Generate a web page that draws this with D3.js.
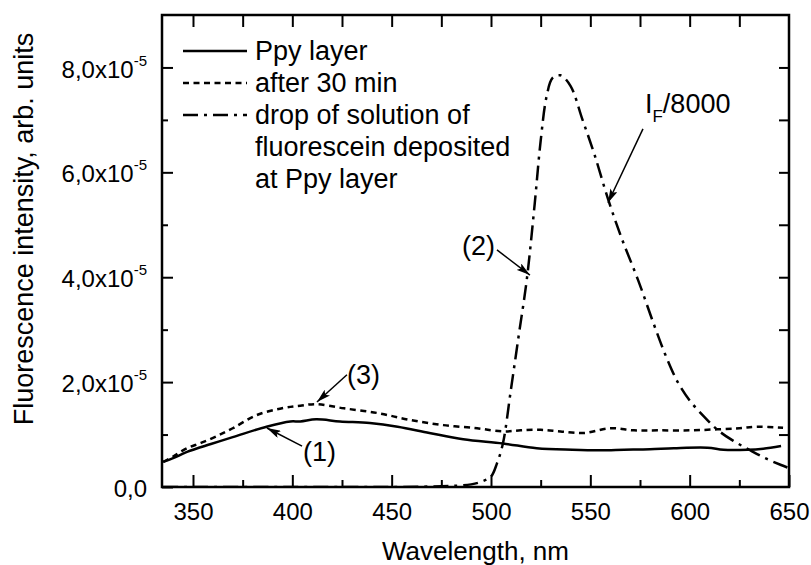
<!DOCTYPE html>
<html lang="en">
<head>
<meta charset="UTF-8">
<title>Fluorescence spectra</title>
<script src="https://d3js.org/d3.v7.min.js"></script>
<style>
  body { margin: 0; background: #fff; }
  svg { font-family: "Liberation Sans", Arial, sans-serif; }
  .tick line { stroke: #000; stroke-width: 2; }
  .tick text { font-size: 24px; fill: #000; }
  .curve { fill: none; stroke: #000; stroke-width: 2.5; }
  .lbl { font-size: 27px; fill: #000; }
</style>
</head>
<body>
<svg id="canvas" width="811" height="565"></svg>
<script>
// values are in units of 1e-5
var UNIT = 1e-5;

var ppyWl  = [335, 340, 347, 359, 370, 387, 399, 404, 412, 424, 439, 453, 469, 486, 506, 523, 541, 555, 567, 580, 592, 609, 617, 629, 637, 646];
var ppyVal = [0.48, 0.55, 0.67, 0.82, 0.95, 1.15, 1.25, 1.25, 1.29, 1.25, 1.22, 1.15, 1.03, 0.91, 0.83, 0.74, 0.71, 0.70, 0.71, 0.72, 0.74, 0.75, 0.71, 0.71, 0.73, 0.78];

var afterWl  = [335, 340, 347, 354, 362, 370, 382, 396, 404, 412, 426, 443, 459, 476, 493, 506, 515, 525, 535, 547, 560, 572, 584, 600, 614, 625, 634, 647];
var afterVal = [0.48, 0.58, 0.74, 0.84, 0.97, 1.12, 1.37, 1.51, 1.55, 1.58, 1.50, 1.41, 1.28, 1.18, 1.12, 1.06, 1.08, 1.09, 1.06, 1.03, 1.12, 1.08, 1.08, 1.08, 1.10, 1.12, 1.15, 1.13];

var dropWl  = [335, 400, 450, 480, 490, 495, 500, 503, 506, 510, 514, 518, 522, 525, 528, 531, 535, 540, 546, 552, 559, 566, 574, 582, 588, 594, 600, 607, 614, 622, 630, 638, 646, 650];
var dropVal = [0, 0, 0, 0.02, 0.05, 0.1, 0.2, 0.45, 0.83, 1.85, 2.9, 3.95, 5.4, 6.6, 7.45, 7.8, 7.85, 7.65, 7.01, 6.35, 5.48, 4.72, 3.95, 3.1, 2.5, 2.0, 1.65, 1.35, 1.09, 0.88, 0.71, 0.55, 0.42, 0.36];

var xMajor = [350, 400, 450, 500, 550, 600, 650];
var xMinor = [375, 425, 475, 525, 575, 625];
var xTop   = [350, 375, 400, 425, 450, 475, 500, 525, 550, 575, 600, 625];
var yMajor = [0, 2, 4, 6, 8];
var yMinor = [1, 3, 5, 7];
var yRight = [1, 2, 3, 4, 5, 6, 7, 8];
var yTickLabels = ["0,0", "2,0x10", "4,0x10", "6,0x10", "8,0x10"];

var legendNames = ["Ppy layer", "after 30 min", "drop of solution of"];
var legendMore  = ["fluorescein deposited", "at Ppy layer"];
var dashes = [null, "6,4.5", "15,6,3,6"];

var svg = d3.select("svg");
var pL = 162, pR = 789, pT = 15, pB = 487;

var x = d3.scaleLinear().domain([334.4, 650]).range([pL, pR]);
var y = d3.scaleLinear().domain([0, 9 * UNIT]).range([pB, pT]);

// axes
svg.append("g").attr("transform", "translate(0," + pB + ")")
  .call(d3.axisBottom(x).tickValues(xMajor).tickSize(-12).tickSizeOuter(0).tickPadding(16));
svg.append("g").attr("transform", "translate(0," + pB + ")")
  .call(d3.axisBottom(x).tickValues(xMinor).tickSize(-7).tickSizeOuter(0).tickFormat(""));
svg.append("g").attr("transform", "translate(0," + pT + ")")
  .call(d3.axisTop(x).tickValues(xTop).tickSize(-12).tickSizeOuter(0).tickFormat(""));

var gy = svg.append("g").attr("transform", "translate(" + pL + ",0)")
  .call(d3.axisLeft(y).tickValues(yMajor.map(function(v){ return v * UNIT; }))
    .tickSize(-11).tickSizeOuter(0).tickPadding(15)
    .tickFormat(function(d, i){ return yTickLabels[i]; }));
svg.append("g").attr("transform", "translate(" + pL + ",0)")
  .call(d3.axisLeft(y).tickValues(yMinor.map(function(v){ return v * UNIT; }))
    .tickSize(-6).tickSizeOuter(0).tickFormat(""));
svg.append("g").attr("transform", "translate(" + pR + ",0)")
  .call(d3.axisRight(y).tickValues(yRight.map(function(v){ return v * UNIT; }))
    .tickSize(-10).tickSizeOuter(0).tickFormat(""));

svg.selectAll(".domain").remove();

gy.selectAll(".tick text").attr("dy", "0.4em").each(function(d, i) {
  if (i === 0) return;
  var t = d3.select(this);
  var base = t.text();
  t.text(null);
  t.append("tspan").text(base);
  t.append("tspan").attr("font-size", "15px").attr("dy", "-0.8em").text("-5");
});

// frame
svg.append("rect")
  .attr("x", pL).attr("y", pT)
  .attr("width", pR - pL).attr("height", pB - pT)
  .attr("fill", "none").attr("stroke", "#000").attr("stroke-width", 2.5);

// curves
svg.append("clipPath").attr("id", "clip").append("rect")
  .attr("x", pL).attr("y", pT).attr("width", pR - pL).attr("height", pB - pT);

var line = d3.line()
  .x(function(d){ return x(d[0]); })
  .y(function(d){ return y(d[1] * UNIT); })
  .curve(d3.curveCatmullRom.alpha(0.5));

var series = [d3.zip(ppyWl, ppyVal), d3.zip(afterWl, afterVal), d3.zip(dropWl, dropVal)];

svg.append("g").attr("clip-path", "url(#clip)")
  .selectAll("path").data(series).enter()
  .append("path")
  .attr("class", "curve")
  .attr("stroke-dasharray", function(d, i){ return dashes[i]; })
  .attr("d", line);

// legend
var leg = svg.append("g");
legendNames.forEach(function(name, i) {
  var ly = 60 + i * 32;
  leg.append("line")
    .attr("x1", 183).attr("x2", 247).attr("y1", ly - 9).attr("y2", ly - 9)
    .attr("stroke", "#000").attr("stroke-width", 2.5)
    .attr("stroke-dasharray", dashes[i]);
  leg.append("text").attr("class", "lbl").attr("x", 255).attr("y", ly).text(name);
});
legendMore.forEach(function(name, i) {
  leg.append("text").attr("class", "lbl").attr("x", 255).attr("y", 60 + (3 + i) * 32).text(name);
});

// annotations: [tailWl, tailVal, tipWl, tipVal]
var arrows = [
  [404.9, 0.78, 387.2, 1.125],
  [427.5, 2.14, 412.4, 1.62],
  [503.0, 4.52, 519.6, 4.04],
  [576.5, 6.83, 558.9, 5.42]
];
var notes = [
  { t: "(1)", wl: 405.4, v: 0.50, anchor: "start" },
  { t: "(3)", wl: 427.5, v: 1.96, anchor: "start" },
  { t: "(2)", wl: 502.0, v: 4.42, anchor: "end" }
];

svg.append("defs").append("marker")
  .attr("id", "head")
  .attr("viewBox", "0 0 14 8")
  .attr("refX", 14).attr("refY", 4)
  .attr("markerUnits", "userSpaceOnUse")
  .attr("markerWidth", 14).attr("markerHeight", 8)
  .attr("orient", "auto")
  .append("path").attr("d", "M0,0 L14,4 L0,8 L3,4 Z").attr("fill", "#000");

svg.selectAll(".arrow").data(arrows).enter()
  .append("line")
  .attr("class", "arrow")
  .attr("x1", function(d){ return x(d[0]); })
  .attr("y1", function(d){ return y(d[1] * UNIT); })
  .attr("x2", function(d){ return x(d[2]); })
  .attr("y2", function(d){ return y(d[3] * UNIT); })
  .attr("stroke", "#000").attr("stroke-width", 1.5)
  .attr("marker-end", "url(#head)");

notes.forEach(function(n) {
  svg.append("text").attr("class", "lbl")
    .attr("x", x(n.wl)).attr("y", y(n.v * UNIT))
    .attr("text-anchor", n.anchor).text(n.t);
});

var iF = svg.append("text").attr("class", "lbl")
  .attr("x", x(577.5)).attr("y", y(7.13 * UNIT));
iF.append("tspan").text("I");
iF.append("tspan").attr("font-size", "17px").attr("dy", "0.5em").text("F");
iF.append("tspan").attr("dy", "-0.33em").text("/8000");

// axis titles
svg.append("text").attr("class", "lbl").style("font-size", "26px")
  .attr("x", (pL + pR) / 2).attr("y", 560)
  .attr("text-anchor", "middle").text("Wavelength, nm");
svg.append("text").attr("class", "lbl")
  .attr("transform", "translate(33,229) rotate(-90)")
  .attr("text-anchor", "middle").text("Fluorescence intensity, arb. units");
</script>
</body>
</html>
